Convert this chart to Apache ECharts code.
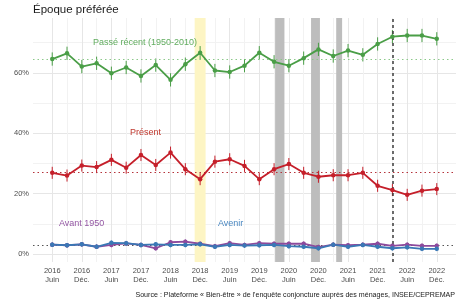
<!DOCTYPE html>
<html>
<head>
<meta charset="utf-8">
<script src="https://cdn.jsdelivr.net/npm/echarts@6/dist/echarts.min.js"></script>
<style>
  html, body { margin: 0; padding: 0; background: #fff; }
  #chart { width: 460px; height: 306px; }
</style>
</head>
<body>
<div id="chart"></div>
<script>
// trimestres, de juin 2016 à décembre 2022
var periodes = ['2016-06', '2016-09', '2016-12', '2017-03', '2017-06', '2017-09', '2017-12',
    '2018-03', '2018-06', '2018-09', '2018-12', '2019-03', '2019-06', '2019-09', '2019-12',
    '2020-03', '2020-06', '2020-09', '2020-12', '2021-03', '2021-06', '2021-09', '2021-12',
    '2022-03', '2022-06', '2022-09', '2022-12'];

var tickLabels = ['2016\nJuin', '2016\nDéc.', '2017\nJuin', '2017\nDéc.', '2018\nJuin', '2018\nDéc.',
    '2019\nJuin', '2019\nDéc.', '2020\nJuin', '2020\nDéc.', '2021\nJuin', '2021\nDéc.',
    '2022\nJuin', '2022\nDéc.'];

var passeRecent = [64.6, 66.5, 62.1, 63.2, 59.9, 61.8, 59.0, 62.6, 57.7, 62.9, 66.7, 60.8, 60.3,
    62.4, 66.7, 63.7, 62.4, 64.9, 67.8, 65.6, 67.4, 66.0, 69.6, 72.0, 72.4, 72.4, 71.3];
var present = [26.9, 26.0, 29.3, 28.8, 31.2, 28.6, 32.8, 29.5, 33.6, 28.1, 24.8, 30.6, 31.4,
    29.2, 24.8, 28.1, 29.8, 26.9, 25.6, 26.1, 26.1, 26.9, 22.6, 21.2, 19.6, 21.0, 21.5];
var avant1950 = [3.1, 2.9, 3.2, 2.4, 3.0, 3.5, 3.0, 1.9, 3.9, 4.1, 3.4, 2.6, 3.6,
    3.0, 3.6, 3.4, 3.4, 3.4, 2.3, 3.1, 2.9, 3.1, 3.4, 2.7, 3.1, 2.7, 2.7];
var avenir = [3.1, 2.9, 3.2, 2.4, 3.7, 3.6, 3.0, 3.2, 3.0, 3.0, 3.2, 2.4, 3.0,
    2.8, 2.9, 3.0, 2.6, 2.4, 1.9, 3.1, 2.4, 3.0, 2.4, 1.9, 2.2, 1.7, 1.7];

// demi-largeur des intervalles de confiance (points de %)
var ciPasse = 2.2, ciPresent = 2.0, ciBas = 0.75;

// niveaux de référence (pointillés horizontaux)
var refPasse = 64.6, refPresent = 27.0, refBas = 3.0;

// périodes marquées (en indice de trimestre)
var bandeJaune = [9.63, 10.37];
var confinements = [[15.07, 15.7], [17.5, 18.1], [19.2, 19.6]];
var ruptureSerie = 23;

var colors = {
    passe: '#4a9e47',
    present: '#c51f2a',
    avant: '#8d4a9c',
    avenir: '#3a78b5'
};

var idx = periodes.map(function(p, i) { return i; });

function pts(values) {
    return values.map(function(v, i) { return [i, v]; });
}

function bars(values, ci) {
    return values.map(function(v, i) { return [i, v - ci, v + ci]; });
}

function errorSeries(values, ci, color) {
    return {
        type: 'custom',
        z: 4,
        silent: true,
        data: bars(values, ci),
        encode: { x: 0, y: [1, 2] },
        renderItem: function(params, api) {
            var lo = api.coord([api.value(0), api.value(1)]);
            var hi = api.coord([api.value(0), api.value(2)]);
            return {
                type: 'line',
                shape: { x1: lo[0], y1: lo[1], x2: hi[0], y2: hi[1] },
                style: { stroke: color, lineWidth: 1 }
            };
        }
    };
}

function lineSeries(name, values, color) {
    return {
        name: name,
        type: 'line',
        z: 5,
        data: pts(values),
        symbol: 'circle',
        symbolSize: 4.5,
        showSymbol: true,
        itemStyle: { color: color },
        lineStyle: { color: color, width: 1.8 }
    };
}

function refLine(y, color) {
    return {
        yAxis: y,
        lineStyle: { color: color, type: [1.5, 3], width: 1 }
    };
}

function note(text, x, y, color, size) {
    return {
        type: 'text',
        x: x,
        y: y,
        z: 10,
        silent: true,
        style: {
            text: text,
            fill: color,
            fontSize: size,
            fontFamily: 'Liberation Sans',
            textVerticalAlign: 'middle'
        }
    };
}

var myChart = echarts.init(document.getElementById('chart'));

var option = {
    animation: false,
    textStyle: { fontFamily: 'Liberation Sans, Arial, sans-serif' },
    title: {
        text: 'Époque préférée',
        left: 33,
        top: 4,
        padding: 0,
        textStyle: { fontSize: 11.5, fontWeight: 'normal', color: '#1a1a1a' }
    },
    grid: { left: 33, right: 4, top: 18, bottom: 44 },
    xAxis: {
        type: 'value',
        min: -1.3,
        max: 27.3,
        axisLine: { show: false },
        axisTick: { show: false, customValues: idx },
        splitLine: { show: true, lineStyle: { color: ['#e6e6e6', '#f2f2f2'], width: 1 } },
        axisLabel: {
            customValues: tickLabels.map(function(t, i) { return i * 2; }),
            formatter: function(v) { return tickLabels[Math.round(v / 2)]; },
            color: '#4d4d4d',
            fontSize: 7.5,
            lineHeight: 9,
            margin: 4
        }
    },
    yAxis: {
        type: 'value',
        min: -2.65,
        max: 78.2,
        axisLine: { show: false },
        axisTick: { show: false, customValues: [0, 10, 20, 30, 40, 50, 60, 70] },
        splitLine: { show: true, lineStyle: { color: ['#e6e6e6', '#f2f2f2'], width: 1 } },
        axisLabel: {
            customValues: [0, 20, 40, 60],
            formatter: '{value}%',
            color: '#4d4d4d',
            fontSize: 7.5,
            margin: 4
        }
    },
    series: [
        {
            type: 'line',
            data: [],
            silent: true,
            markArea: {
                silent: true,
                itemStyle: { color: '#fdf5c4' },
                data: [[{ xAxis: bandeJaune[0] }, { xAxis: bandeJaune[1] }]]
            }
        },
        {
            type: 'line',
            data: [],
            silent: true,
            markArea: {
                silent: true,
                itemStyle: { color: '#bdbdbd' },
                data: confinements.map(function(c) { return [{ xAxis: c[0] }, { xAxis: c[1] }]; })
            },
            markLine: {
                silent: true,
                symbol: 'none',
                label: { show: false },
                data: [
                    refLine(refPasse, '#8cc98a'),
                    refLine(refPresent, '#b5323a'),
                    refLine(refBas, '#555555'),
                    { xAxis: ruptureSerie, lineStyle: { color: '#3d3d3d', type: [3, 3], width: 1.5 } }
                ]
            }
        },
        errorSeries(passeRecent, ciPasse, colors.passe),
        errorSeries(present, ciPresent, colors.present),
        errorSeries(avant1950, ciBas, colors.avant),
        errorSeries(avenir, ciBas, colors.avenir),
        lineSeries('Passé récent (1950-2010)', passeRecent, colors.passe),
        lineSeries('Présent', present, colors.present),
        lineSeries('Avant 1950', avant1950, colors.avant),
        lineSeries('Avenir', avenir, colors.avenir)
    ],
    graphic: [
        note('Passé récent (1950-2010)', 93, 43, '#62ad60', 9),
        note('Présent', 130, 133, '#c0392f', 9),
        note('Avant 1950', 59, 224, '#9458a4', 9),
        note('Avenir', 218, 224, '#4a87c0', 9),
        {
            type: 'text',
            right: 5,
            top: 292,
            z: 10,
            silent: true,
            style: {
                text: 'Source : Plateforme « Bien-être » de l\'enquête conjoncture auprès des ménages, INSEE/CEPREMAP',
                fill: '#1a1a1a',
                fontSize: 7.1,
                fontFamily: 'Liberation Sans'
            }
        }
    ]
};

myChart.setOption(option);
</script>
</body>
</html>
